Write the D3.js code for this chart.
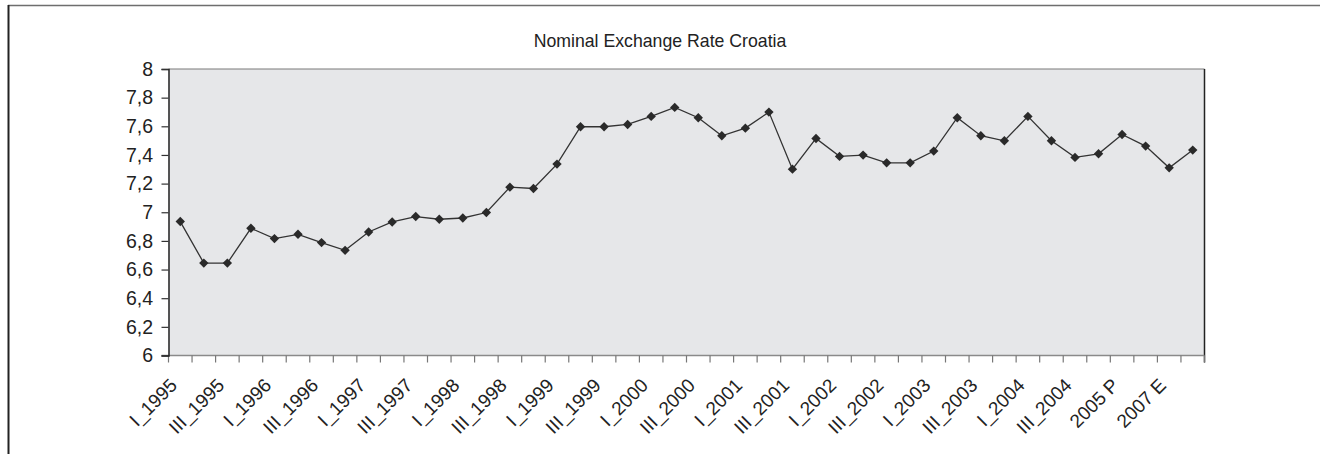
<!DOCTYPE html>
<html>
<head>
<meta charset="utf-8">
<script src="https://cdn.jsdelivr.net/npm/d3@7"></script>
<style>
  body { margin: 0; background: #fff; }
  svg { display: block; font-family: "Liberation Sans", Arial, sans-serif; }
</style>
</head>
<body>
<div id="chart"></div>
<script>
// quarters 1995-2004, then yearly projections
const categories = [
  'I_1995', 'II_1995', 'III_1995', 'IV_1995',
  'I_1996', 'II_1996', 'III_1996', 'IV_1996',
  'I_1997', 'II_1997', 'III_1997', 'IV_1997',
  'I_1998', 'II_1998', 'III_1998', 'IV_1998',
  'I_1999', 'II_1999', 'III_1999', 'IV_1999',
  'I_2000', 'II_2000', 'III_2000', 'IV_2000',
  'I_2001', 'II_2001', 'III_2001', 'IV_2001',
  'I_2002', 'II_2002', 'III_2002', 'IV_2002',
  'I_2003', 'II_2003', 'III_2003', 'IV_2003',
  'I_2004', 'II_2004', 'III_2004', 'IV_2004',
  '2005 P', '2006 P', '2007 E', '2008 E'
];
const rates = [
  6.935, 6.645, 6.645, 6.888, 6.816, 6.846, 6.788, 6.734,
  6.862, 6.932, 6.970, 6.951, 6.960, 6.998, 7.175, 7.166,
  7.336, 7.597, 7.597, 7.613, 7.669, 7.732, 7.660, 7.534,
  7.587, 7.699, 7.301, 7.515, 7.390, 7.399, 7.345, 7.345,
  7.427, 7.660, 7.534, 7.499, 7.669, 7.499, 7.383, 7.408,
  7.543, 7.462, 7.310, 7.434
];
const yTicks = [6, 6.2, 6.4, 6.6, 6.8, 7, 7.2, 7.4, 7.6, 7.8, 8];
const title = 'Nominal Exchange Rate Croatia';

const W = 1320, H = 454;
const m = { left: 168.5, right: 1204.5, top: 69, bottom: 355.5 };

const svg = d3.select('#chart').append('svg').attr('width', W).attr('height', H);

// outer frame
svg.append('line').attr('x1', 8).attr('x2', W).attr('y1', 5.5).attr('y2', 5.5)
  .attr('stroke', '#6e6e6e').attr('stroke-width', 1.5);
svg.append('line').attr('x1', 8.5).attr('x2', 8.5).attr('y1', 5).attr('y2', H)
  .attr('stroke', '#222').attr('stroke-width', 2);

svg.append('text').attr('x', W / 2).attr('y', 47).attr('text-anchor', 'middle')
  .attr('font-size', 17.7).attr('fill', '#222').text(title);

const x = d3.scaleBand().domain(categories).range([m.left, m.right]);
const y = d3.scaleLinear().domain([6, 8]).range([m.bottom, m.top]);

svg.append('rect').attr('x', m.left).attr('y', m.top)
  .attr('width', m.right - m.left).attr('height', m.bottom - m.top)
  .attr('fill', '#e6e7e9');
svg.append('line').attr('x1', m.left).attr('x2', m.right).attr('y1', m.top).attr('y2', m.top)
  .attr('stroke', '#7a7a7a').attr('stroke-width', 1.2);
svg.append('line').attr('x1', m.right).attr('x2', m.right).attr('y1', m.top).attr('y2', m.bottom + 7)
  .attr('stroke', '#222').attr('stroke-width', 1.5);

// x axis: a tick at every band edge, labels on every other category
const edges = categories.map(c => x(c)).concat([m.right]);
const gx = svg.append('g');
gx.append('line').attr('x1', m.left - 7).attr('x2', m.right).attr('y1', m.bottom).attr('y2', m.bottom)
  .attr('stroke', '#8a8a8a').attr('stroke-width', 1.5);
gx.selectAll('.xt').data(edges).enter().append('line')
  .attr('x1', d => d).attr('x2', d => d).attr('y1', m.bottom).attr('y2', m.bottom + 7)
  .attr('stroke', '#777').attr('stroke-width', 1.2);
gx.selectAll('.xl').data(categories.filter((c, i) => i % 2 === 0)).enter().append('text')
  .attr('text-anchor', 'end').attr('font-size', 19).attr('fill', '#222')
  .attr('transform', d => `translate(${x(d) + x.bandwidth() / 2 - 2},${m.bottom + 31}) rotate(-45)`)
  .text(d => d);

// y axis
const gy = svg.append('g').attr('transform', `translate(${m.left},0)`)
  .call(d3.axisLeft(y).tickValues(yTicks).tickSize(7).tickPadding(8.5)
    .tickFormat(d => String(d).replace('.', ',')));
gy.select('.domain').attr('stroke', '#222').attr('stroke-width', 1.5);
gy.selectAll('.tick line').attr('stroke', '#333').attr('stroke-width', 1.2);
gy.selectAll('.tick text').attr('font-size', 19.5).attr('fill', '#222')
  .attr('font-family', '"Liberation Sans", Arial, sans-serif');

// series
const cx = d => x(d) + x.bandwidth() / 2;
const line = d3.line().x((d, i) => cx(categories[i])).y(d => y(d));
svg.append('path').datum(rates).attr('d', line)
  .attr('fill', 'none').attr('stroke', '#333').attr('stroke-width', 1.3);

const diamond = d3.symbol().type(d3.symbolSquare).size(44);
svg.selectAll('.pt').data(rates).enter().append('path')
  .attr('d', diamond)
  .attr('transform', (d, i) => `translate(${cx(categories[i])},${y(d)}) rotate(45)`)
  .attr('fill', '#2a2a2a');
</script>
</body>
</html>
